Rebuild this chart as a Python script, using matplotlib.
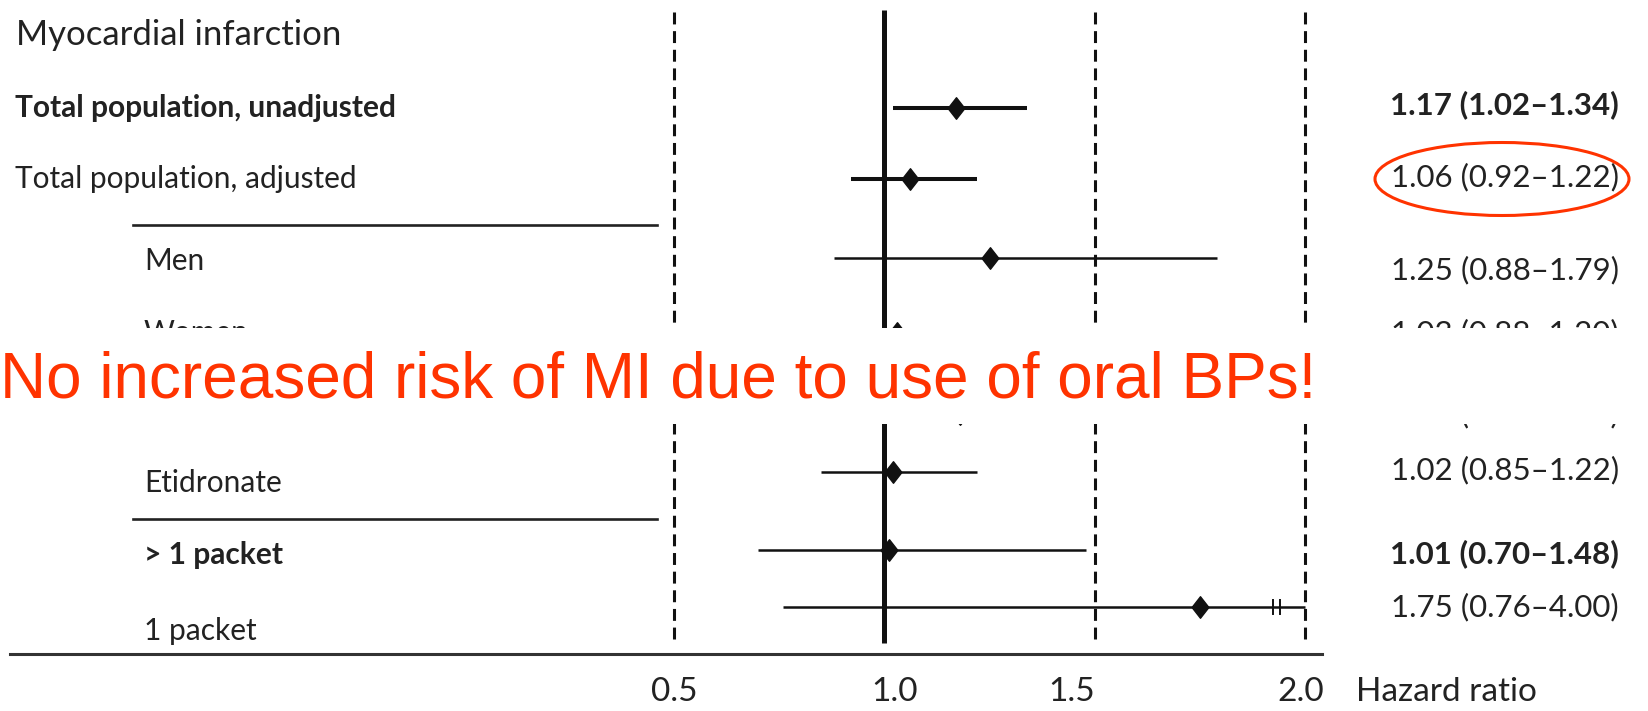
import matplotlib
matplotlib.use("Agg")
import matplotlib.pyplot as plt
import matplotlib.transforms as mtransforms
from matplotlib.patches import Ellipse, Rectangle
from matplotlib.path import Path

# data (row 5 label is hidden under the banner)
labels = ["Total population, unadjusted", "Total population, adjusted", "Men", "Women",
          "", "Etidronate", "> 1 packet", "1 packet"]
hr = [1.17, 1.06, 1.25, 1.03, 1.18, 1.02, 1.01, 1.75]
ci_low = [1.02, 0.92, 0.88, 0.88, 0.97, 0.85, 0.70, 0.76]
ci_high = [1.34, 1.22, 1.79, 1.20, 1.43, 1.22, 1.48, 4.00]
bold_rows = [0, 6]
tick_vals = [0.5, 1.0, 1.5, 2.0]
dashed_vals = [0.5, 1.5, 2.0]
x_max = 2.0

# layout (pixels from top / left)
W, H = 1648, 711
row_y = [108, 179, 258, 333, 414, 472, 550, 607]
label_y = [108, 179, 261, 333, 414, 483, 555, 631]
value_y = [105, 177, 270, 333, 414, 470, 554, 607]
label_x = [15, 15, 144, 144, 144, 144, 144, 144]
ci_lw = [2.9, 2.9, 1.8, 1.8, 1.8, 1.8, 1.8, 1.8]
tick_nudge = [0, 10, -23, -4]

txt = "#222222"
red = "#ff3300"
plt.rcParams['font.family'] = ['Lato', 'DejaVu Sans']

fig = plt.figure(figsize=(W / 100, H / 100), dpi=100)
ax = fig.add_axes([0, 0, 1, 1])
# 0.5 sits at x=674 px, 2.0 at x=1305 px
k = (1305 - 674) / 1.5
ax.set_xlim(0.5 - 674 / k, 2.0 + (W - 1305) / k)
ax.set_ylim(H, 0)
ax.axis("off")
tr = mtransforms.blended_transform_factory(ax.transAxes, ax.transData)

# reference lines
ax.plot([1.0, 1.0], [10, 643], color="#111111", lw=3.6, solid_capstyle="butt")
for v in dashed_vals:
    ax.plot([v, v], [12, 643], color="#111111", lw=2.2, dashes=(3.9, 2.2))

diamond = Path([(0, 1), (0.78, 0), (0, -1), (-0.78, 0), (0, 1)],
               [Path.MOVETO, Path.LINETO, Path.LINETO, Path.LINETO, Path.CLOSEPOLY])

for i in range(len(hr)):
    hi = min(ci_high[i], x_max)
    ax.plot([ci_low[i], hi], [row_y[i], row_y[i]], color="#111111", lw=ci_lw[i],
            solid_capstyle="butt")
    ax.plot(hr[i], row_y[i], marker=diamond, ms=15.5, color="#111111", mec="#111111")
    if ci_high[i] > x_max:
        for b in [x_max - 0.075, x_max - 0.06]:
            ax.plot([b, b], [row_y[i] - 7, row_y[i] + 7], color="#111111", lw=1.4)
    wt = "bold" if i in bold_rows else "normal"
    if labels[i]:
        ax.text(label_x[i] / W, label_y[i], labels[i], transform=tr, fontsize=21.5,
                fontweight=wt, color=txt, ha="left", va="center")
    ax.text(1619 / W, value_y[i], f"{hr[i]:.2f} ({ci_low[i]:.2f}\u2013{ci_high[i]:.2f})",
            transform=tr, fontsize=22.5, fontweight=wt, color=txt, ha="right", va="center")

ax.text(16 / W, 35, "Myocardial infarction", transform=tr, fontsize=25, color=txt,
        ha="left", va="center")

# group separators and bottom axis line
for y in [225, 519]:
    ax.plot([133 / W, 657 / W], [y, y], transform=tr, color="#222222", lw=1.9)
ax.plot([10 / W, 1322 / W], [654, 654], transform=tr, color="#333333", lw=2.2)

for v, dx in zip(tick_vals, tick_nudge):
    ax.text(v + dx / k, 692, f"{v:.1f}", fontsize=24, color=txt, ha="center", va="center")
ax.text(1356 / W, 692, "Hazard ratio", transform=tr, fontsize=24, color=txt,
        ha="left", va="center")

# highlight on adjusted estimate
ax.add_patch(Ellipse((0.5 + (1502 - 674) / k, 179), 254 / k, 73, fill=False,
                     edgecolor=red, lw=2.2, zorder=5))

# white banner with message
ax.add_patch(Rectangle((0, 328), 1, 96, transform=tr, facecolor="white",
                       edgecolor="none", zorder=10))
ax.text(0, 380, "No increased risk of MI due to use of oral BPs!", transform=tr,
        fontsize=46, color=red, family="Liberation Sans", ha="left", va="center",
        zorder=11)

fig.savefig("out.png", dpi=100)
